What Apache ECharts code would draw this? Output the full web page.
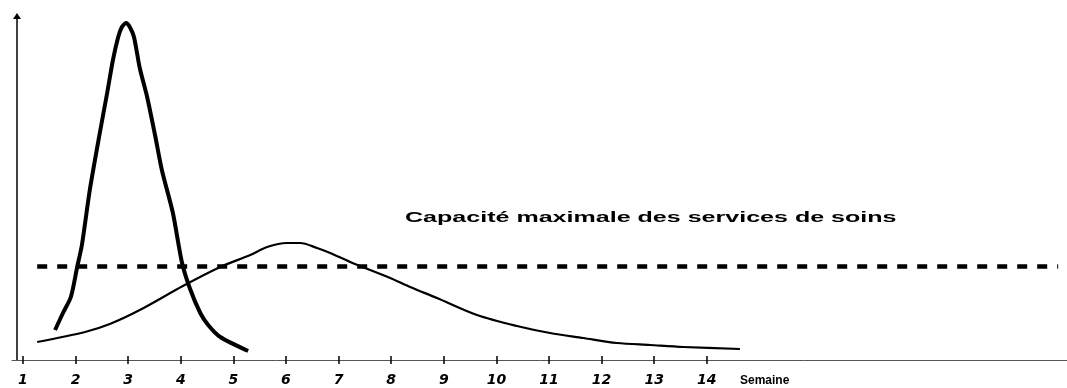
<!DOCTYPE html>
<html>
<head>
<meta charset="utf-8">
<script src="https://cdn.jsdelivr.net/npm/echarts@6/dist/echarts.min.js"></script>
<style>
  html, body { margin: 0; padding: 0; background: #fff; }
  #chart { width: 1067px; height: 388px; }
</style>
</head>
<body>
<div id="chart"></div>
<script>
// ---- data (weeks on x, arbitrary case count on y) ----
const weekTicks = [1, 2, 3, 4, 5, 6, 7, 8, 9, 10, 11, 12, 13, 14];
const weekLabels = ['1','2','3','4','5','6','7','8','9','10','11','12','13','14'];
const unitLabel = 'Semaine';
const unitLabelPos = 15.1;

// sharp epidemic peak (no measures)
const peakWeeks  = [1.61, 1.76, 1.91, 2.03, 2.12, 2.27, 2.46, 2.60, 2.71, 2.81, 2.88, 2.96, 3.03, 3.11, 3.22, 3.36, 3.51, 3.64, 3.85, 4.02, 4.17, 4.37, 4.52, 4.75, 5.28];
const peakCases  = [30,   47,   63,   93,   115,  170,  227,  267,  300,  323,  333,  337,  333,  323,  292,  263,  225,  190,  147,  98,   72,   47,   35,   23,   9];

// flattened curve (with measures)
const flatWeeks  = [1.27, 2.18, 2.65, 3.22, 4.04, 4.75, 5.32, 5.64, 6.02, 6.27, 6.59, 6.84, 7.22, 7.98, 8.36, 8.87, 9.63, 10.39, 11.02, 11.65, 12.29, 12.92, 13.55, 14.63];
const flatCases  = [18,   28,   36,   50,   74,   93,   105,  113,  117,  117,  112,  107,  98,   82,   73,   62,   45,   34,    27,    22,    17,    15,    13,    11];

// health-care capacity threshold
const capacityLabel = 'Capacité maximale des services de soins';
const capacityValue = 93.5;
const capacityRange = [1.27, 20.68];

const xMin = 0.791, xMax = 20.848;
const yMax = 344;

const zip = (xs, ys) => xs.map((x, i) => [x, ys[i]]);

const chart = echarts.init(document.getElementById('chart'), null, { renderer: 'canvas' });
chart.setOption({
  animation: false,
  backgroundColor: '#fff',
  grid: { left: 12, right: 0, top: 16, bottom: 28 },
  xAxis: [{
    type: 'value', min: xMin, max: xMax, position: 'bottom',
    axisLine: { show: true, onZero: false, lineStyle: { color: '#555', width: 1 } },
    axisTick: { show: true, inside: false, length: 4, customValues: weekTicks, lineStyle: { color: '#000', width: 1.5 } },
    axisLabel: {
      show: true, margin: 13,
      customValues: weekTicks.concat([unitLabelPos]),
      fontFamily: 'DejaVu Sans', fontWeight: 'bold', fontStyle: 'italic', fontSize: 14, color: '#000',
      formatter: function (v) {
        const i = weekTicks.indexOf(v);
        if (i >= 0) return weekLabels[i];
        return '{u|' + unitLabel + '}';
      },
      rich: { u: { fontFamily: 'Liberation Sans', fontWeight: 'bold', fontStyle: 'normal', fontSize: 12, color: '#000', padding: [2, 0, 0, 0] } }
    },
    splitLine: { show: false }
  }, {
    type: 'value', min: xMin, max: xMax, position: 'bottom',
    axisLine: { show: false, onZero: false },
    axisTick: { show: true, inside: true, length: 4, customValues: weekTicks, lineStyle: { color: '#000', width: 1.5 } },
    axisLabel: { show: false },
    splitLine: { show: false }
  }],
  yAxis: {
    type: 'value', min: 0, max: yMax, position: 'left', offset: -5,
    axisLine: { show: true, onZero: false, symbol: ['none', 'triangle'], symbolSize: [8, 6], lineStyle: { color: '#000', width: 1.5 } },
    axisTick: { show: false },
    axisLabel: { show: false },
    splitLine: { show: false }
  },
  series: [{
    type: 'line', xAxisIndex: 0,
    data: zip(peakWeeks, peakCases),
    smooth: 0.25, showSymbol: false, symbol: 'none',
    lineStyle: { color: '#000', width: 4, cap: 'butt', join: 'round' }
  }, {
    type: 'line', xAxisIndex: 0,
    data: zip(flatWeeks, flatCases),
    smooth: 0.3, showSymbol: false, symbol: 'none',
    lineStyle: { color: '#000', width: 2.2, join: 'round' }
  }, {
    type: 'line', xAxisIndex: 0,
    data: [[capacityRange[0], capacityValue], [capacityRange[1], capacityValue]],
    showSymbol: false, symbol: 'none',
    lineStyle: { color: '#000', width: 4.5, type: [10, 10], cap: 'butt' }
  }],
  graphic: [{
    type: 'text', x: 405, y: 217.5, scaleX: 1.67,
    style: {
      text: capacityLabel, fill: '#000',
      font: 'bold 15px "Liberation Sans", Arial, sans-serif',
      textAlign: 'left', textVerticalAlign: 'middle'
    }
  }]
});
</script>
</body>
</html>
